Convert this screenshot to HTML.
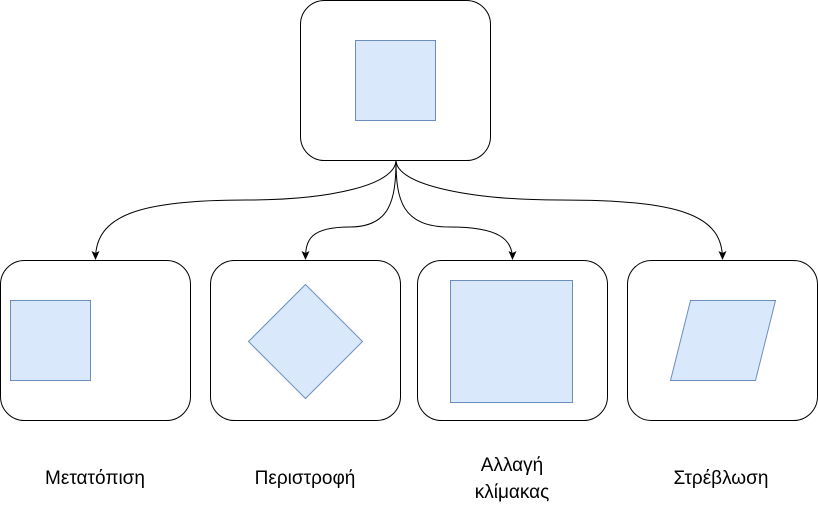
<!DOCTYPE html>
<html><head><meta charset="utf-8"><style>
body{margin:0;background:#fff;width:818px;height:511px;overflow:hidden}
text{font-family:"Liberation Sans","DejaVu Sans",sans-serif;font-size:19px;fill:#000}
</style></head><body>
<svg width="818" height="511" viewBox="0 0 818 511">
<defs><marker id="a" markerWidth="10" markerHeight="10" refX="8" refY="5" orient="auto" markerUnits="userSpaceOnUse"><path d="M0,1 L9,5 L0,9 L2,5 Z" fill="#000"/></marker></defs>
<g fill="#fff" stroke="#000" stroke-width="1">
<rect x="300.5" y="0.5" width="190" height="160" rx="24"/>
<rect x="0.5" y="260.5" width="190" height="160" rx="24"/>
<rect x="210.5" y="260.5" width="190" height="160" rx="24"/>
<rect x="417.5" y="260.5" width="190" height="160" rx="24"/>
<rect x="627.5" y="260.5" width="190" height="160" rx="24"/>
</g>
<g fill="#dae8fc" stroke="#6c8ebf" stroke-width="1">
<rect x="355.5" y="40.5" width="80" height="80"/>
<rect x="10.5" y="300.5" width="80" height="80"/>
<polygon points="305.5,284.5 362.5,341.5 305.5,398.5 248.5,341.5"/>
<rect x="450.5" y="280.5" width="122" height="122"/>
<polygon points="690.5,300.5 775.5,300.5 755.5,380.5 670.5,380.5"/>
</g>
<g fill="none" stroke="#000" stroke-width="1" marker-end="url(#a)">
<path d="M396,160 C396,185 330,200 246,200 C140,200 95.5,215 95.5,259"/>
<path d="M396,160 C396,200 390,227 350,227 C310,227 305.5,240 305.5,259"/>
<path d="M396,160 C396,200 402,227 450,227 C500,227 512.5,240 512.5,259"/>
<path d="M396,160 C396,185 470,200 560,200 C680,200 722.5,215 722.5,259"/>
</g>
<g text-anchor="middle">
<text x="95" y="484">Μετατόπιση</text>
<text x="305" y="484">Περιστροφή</text>
<text x="512" y="471">Αλλαγή</text>
<text x="512" y="498">κλίμακας</text>
<text x="721" y="484">Στρέβλωση</text>
</g>
</svg>
</body></html>
